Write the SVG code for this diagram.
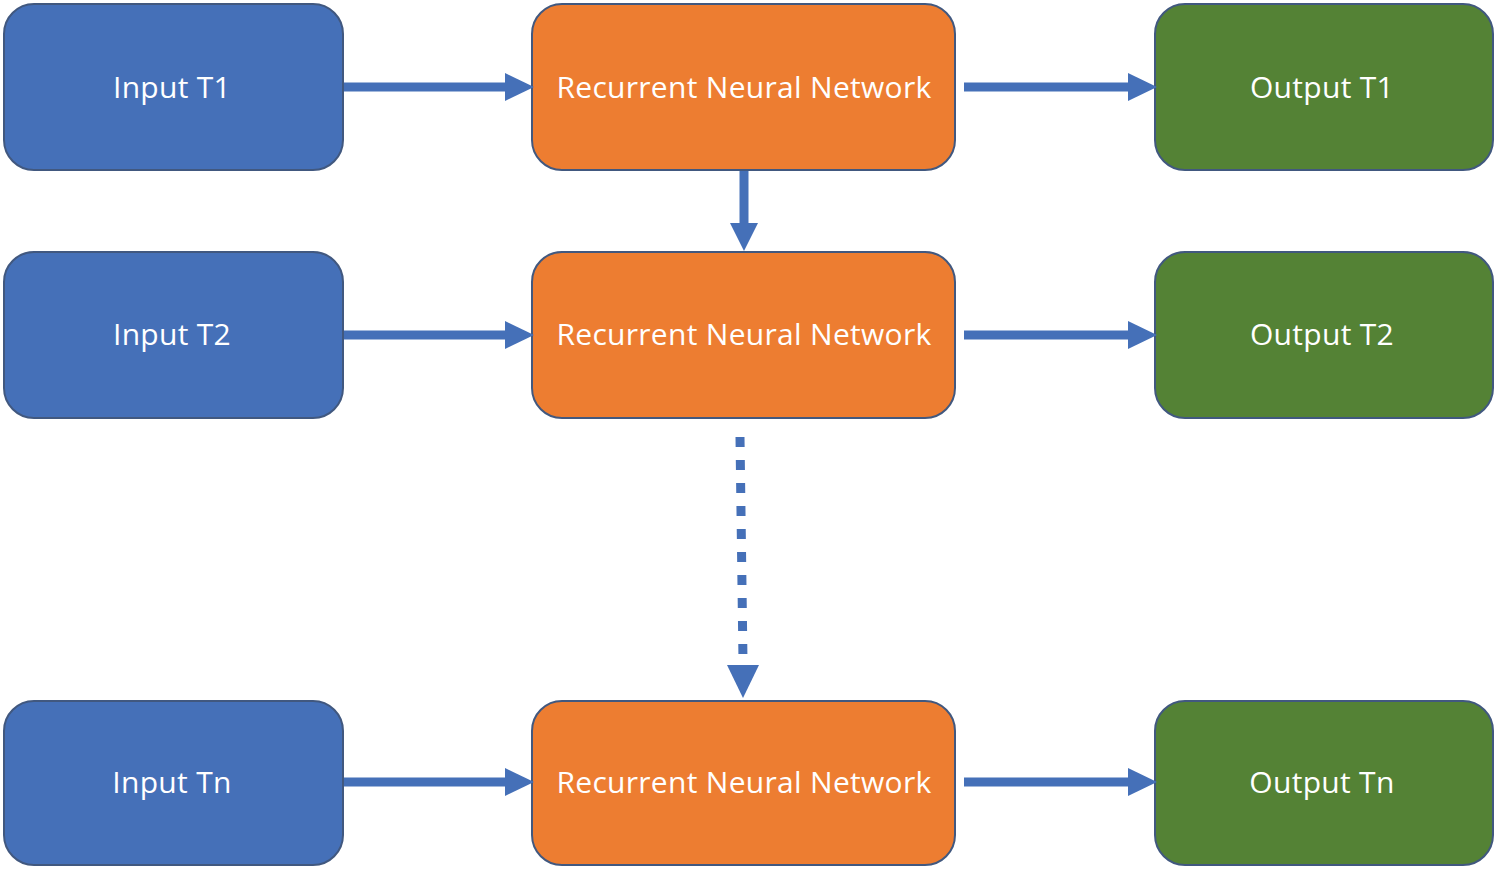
<svg xmlns="http://www.w3.org/2000/svg" width="1500" height="871" viewBox="0 0 1500 871">
<defs>
<style>
.box{stroke:#41587f;stroke-width:2}
.in{fill:#4570b8}
.rnn{fill:#ed7d31}
.out{fill:#548235}
.lbl{font-family:"Open Sans","DejaVu Sans",sans-serif;font-size:30px;letter-spacing:0.3px;fill:#ffffff;text-anchor:middle;dominant-baseline:central}
.conn{stroke:#4570b8;stroke-width:9;fill:none}
.head{fill:#4570b8}
</style>
</defs>
<rect width="1500" height="871" fill="#ffffff"/>
<g id="input1"><rect class="box in" x="4" y="4" width="339" height="166" rx="30"/><text class="lbl" x="172" y="86">Input T1</text></g>
<g id="input2"><rect class="box in" x="4" y="252" width="339" height="166" rx="30"/><text class="lbl" x="172" y="333">Input T2</text></g>
<g id="inputn"><rect class="box in" x="4" y="701" width="339" height="164" rx="30"/><text class="lbl" x="172" y="781">Input Tn</text></g>
<g id="rnn1"><rect class="box rnn" x="532" y="4" width="423" height="166" rx="30"/><text class="lbl" x="744" y="86">Recurrent Neural Network</text></g>
<g id="rnn2"><rect class="box rnn" x="532" y="252" width="423" height="166" rx="30"/><text class="lbl" x="744" y="333">Recurrent Neural Network</text></g>
<g id="rnnn"><rect class="box rnn" x="532" y="701" width="423" height="164" rx="30"/><text class="lbl" x="744" y="781">Recurrent Neural Network</text></g>
<g id="output1"><rect class="box out" x="1155" y="4" width="338" height="166" rx="30"/><text class="lbl" x="1322" y="86">Output T1</text></g>
<g id="output2"><rect class="box out" x="1155" y="252" width="338" height="166" rx="30"/><text class="lbl" x="1322" y="333">Output T2</text></g>
<g id="outputn"><rect class="box out" x="1155" y="701" width="338" height="164" rx="30"/><text class="lbl" x="1322" y="781">Output Tn</text></g>
<g id="connectors">
<line class="conn" x1="344" y1="87" x2="507" y2="87"/><polygon class="head" points="505,73 534,87 505,101"/>
<line class="conn" x1="344" y1="335" x2="507" y2="335"/><polygon class="head" points="505,321 534,335 505,349"/>
<line class="conn" x1="344" y1="782" x2="507" y2="782"/><polygon class="head" points="505,768 534,782 505,796"/>
<line class="conn" x1="964" y1="87" x2="1130" y2="87"/><polygon class="head" points="1128,73 1157,87 1128,101"/>
<line class="conn" x1="964" y1="335" x2="1130" y2="335"/><polygon class="head" points="1128,321 1157,335 1128,349"/>
<line class="conn" x1="964" y1="782" x2="1130" y2="782"/><polygon class="head" points="1128,768 1157,782 1128,796"/>
<line class="conn" x1="744" y1="171" x2="744" y2="226"/><polygon class="head" points="730,223 758,223 744,251"/>
<line class="conn" x1="740" y1="437" x2="743" y2="661" stroke-dasharray="10 13"/><polygon class="head" points="727,665 759,665 743,698"/>
</g>
</svg>
